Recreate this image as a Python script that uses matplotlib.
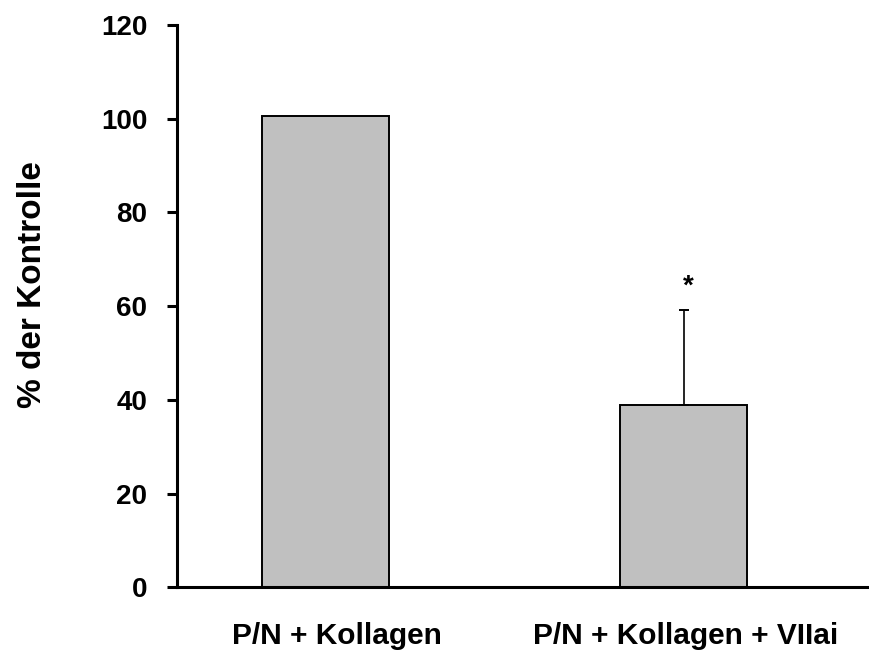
import matplotlib
matplotlib.use("Agg")
import matplotlib.pyplot as plt
from matplotlib.transforms import ScaledTranslation

plt.rcParams['font.family'] = ['Liberation Sans', 'DejaVu Sans']
plt.rcParams['font.weight'] = 'bold'

categories = ["P/N + Kollagen", "P/N + Kollagen + VIIai"]
values = [100.6, 38.8]
errors = [0.0, 20.3]
yticks = [0, 20, 40, 60, 80, 100, 120]
star_value = 64.1

fig = plt.figure(figsize=(8.69, 6.52), dpi=100)
ax = fig.add_axes([0.2037, 0.0992, 0.7963, 0.8625])

pos = list(range(len(categories)))
ax.bar(pos, values, width=0.354, color="#c0c0c0", edgecolor="black", linewidth=1.4, zorder=2)
ax.errorbar(pos[1], values[1], yerr=[[0], [errors[1]]], fmt="none", ecolor="black",
            elinewidth=1.2, capsize=3.3, capthick=1.4, zorder=3)
ax.text(pos[1] + 0.014, star_value, "*", ha="center", va="center", fontsize=20, fontweight="bold")

ax.set_xlim(-0.413, 1.517)
ax.set_ylim(0, 120)
ax.set_yticks(yticks)
ax.set_yticklabels([str(t) for t in yticks], fontsize=20, fontweight="bold")
ax.set_xticks(pos)
ax.set_xticklabels(categories, fontsize=21.5, fontweight="bold")
ax.tick_params(axis="x", length=0, pad=25)
ax.tick_params(axis="y", direction="out", length=7, width=2.2, pad=14.5)

# category labels sit slightly right of the bar centres
for lbl, dx in zip(ax.get_xticklabels(), [0.12, 0.02]):
    lbl.set_transform(lbl.get_transform() + ScaledTranslation(dx, 0, fig.dpi_scale_trans))

ax.set_ylabel("% der Kontrolle", fontsize=24, fontweight="bold", labelpad=38)
ax.yaxis.label.set_y(0.539)

for side in ("top", "right"):
    ax.spines[side].set_visible(False)
ax.spines["left"].set_linewidth(2.2)
ax.spines["bottom"].set_linewidth(2.2)

fig.savefig("out.png", dpi=100)
